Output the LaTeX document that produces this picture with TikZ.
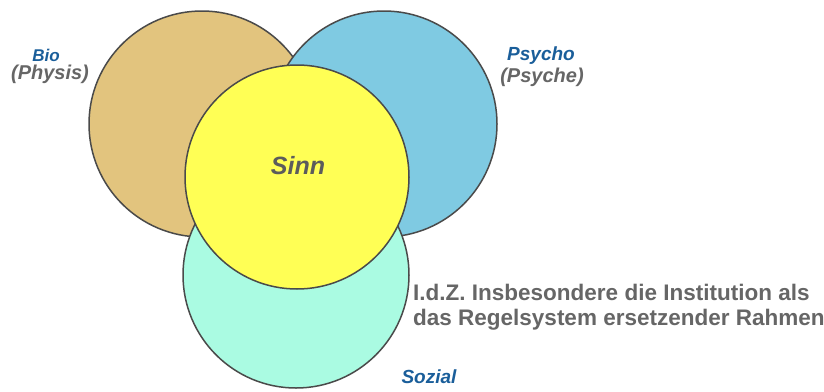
\documentclass[tikz,border=0pt]{standalone}
\usepackage{fontspec}
\setmainfont{Liberation Sans}
\definecolor{biofill}{HTML}{E2C47E}
\definecolor{psychofill}{HTML}{7FCAE2}
\definecolor{sozialfill}{HTML}{AAFBE2}
\definecolor{sinnfill}{HTML}{FFFF55}
\definecolor{rand}{HTML}{4A4A4A}
\definecolor{titel}{HTML}{1A5E9A}
\definecolor{grau}{HTML}{666666}
\tikzset{
  kreis/.style={circle,draw=rand,line width=1.5pt,inner sep=0pt,minimum size=226pt},
  titeltext/.style={text=titel,font=\fontsize{17}{19}\selectfont\bfseries\itshape},
  grautext/.style={text=grau,font=\fontsize{20}{24}\selectfont\bfseries\itshape}
}
\begin{document}
\begin{tikzpicture}[x=1pt,y=-1pt]
        \useasboundingbox (0,0) rectangle (824,391);

        \node[kreis,fill=biofill] (bio) at (202,124) {};
        \node[kreis,fill=psychofill] (psycho) at (384,124) {};
        \node[kreis,fill=sozialfill] (sozial) at (296,275) {};
        \node[kreis,fill=sinnfill,minimum size=224pt] (sinn) at (297,177) {};

        \node[grautext,text=rand!90,font=\fontsize{25}{28}\selectfont\bfseries\itshape] (sinnlabel) at (298,166) {Sinn};

        \node[titeltext] (biolabel) at (46,55) {Bio};
        \node[grautext] (physis) at (50,74) {(Physis)};
        \node[titeltext,font=\fontsize{19}{21}\selectfont\bfseries\itshape] (psycholabel) at (541,56) {Psycho};
        \node[grautext] (psyche) at (542,77) {(Psyche)};
        \node[titeltext,font=\fontsize{19}{21}\selectfont\bfseries\itshape] (soziallabel) at (429,377) {Sozial};

        \node[text=grau,font=\fontsize{22.5}{25.5}\selectfont\bfseries,align=left,anchor=west,inner sep=0pt] (rahmen) at (413,307)
          {I.d.Z. Insbesondere die Institution als\\das Regelsystem ersetzender Rahmen};
    \end{tikzpicture}
\end{document}
